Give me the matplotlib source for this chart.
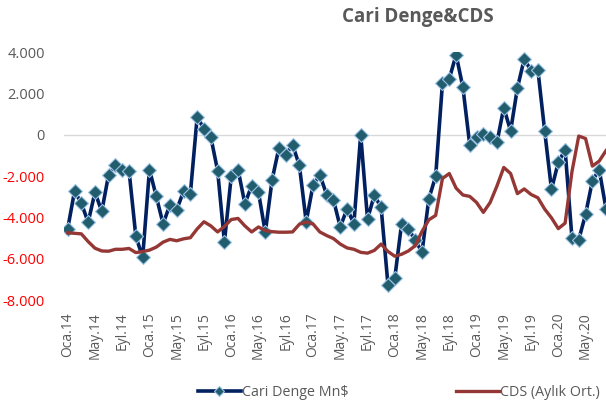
import numpy as np
import matplotlib
matplotlib.use("Agg")
import matplotlib.pyplot as plt
from matplotlib.lines import Line2D

plt.rcParams['font.family'] = ['Open Sans', 'DejaVu Sans']

# aylik veriler, Oca.14 - Agu.20
cari_denge = [-4550, -2740, -3310, -4240, -2790, -3710, -1940, -1490, -1690, -1740,
              -4920, -5940, -1690, -2990, -4320, -3390, -3630, -2740, -2860, 860,
              280, -110, -1740, -5190, -2020, -1690, -3340, -2470, -2790, -4730,
              -2180, -640, -970, -480, -1490, -4210, -2450, -1940, -2900, -3150,
              -4470, -3580, -4310, 0, -4080, -2930, -3520, -7260, -6940, -4320,
              -4560, -5110, -5680, -3100, -2020, 2500, 2700, 3870, 2290, -480,
              -130, 50, -110, -370, 1310, 180, 2260, 3660, 3100, 3150,
              180, -2650, -1330, -740, -4980, -5080, -3860, -2240, -1690, -3580]

cds = [244, 242, 240, 212, 188, 178, 177, 184, 184, 187,
       172, 176, 181, 192, 210, 220, 215, 222, 226, 258,
       284, 269, 247, 267, 292, 296, 269, 247, 265, 252,
       248, 246, 246, 247, 275, 283, 276, 247, 234, 223,
       203, 189, 184, 173, 170, 180, 203, 176, 159, 166,
       178, 197, 249, 291, 307, 441, 459, 406, 381, 376,
       354, 318, 354, 414, 481, 459, 386, 403, 383, 371,
       330, 298, 259, 279, 465, 595, 586, 486, 504, 542]

tick_labels = ['Oca.14', 'May.14', 'Eyl.14', 'Oca.15', 'May.15', 'Eyl.15', 'Oca.16',
               'May.16', 'Eyl.16', 'Oca.17', 'May.17', 'Eyl.17', 'Oca.18', 'May.18',
               'Eyl.18', 'Oca.19', 'May.19', 'Eyl.19', 'Oca.20', 'May.20']

y_ticks = [4000, 2000, 0, -2000, -4000, -6000, -8000]

navy = '#002060'
teal = '#215d6c'
kirmizi = '#953735'
gri = '#595959'

x = np.arange(len(cari_denge))

fig = plt.figure(figsize=(6.06, 4.08), dpi=100)
ax = fig.add_axes([64.3 / 606, 108 / 408, 545.1 / 606, 248 / 408])

ax.plot(x, cari_denge, color=navy, lw=2.6, marker='D', ms=7,
        mfc=teal, mec='#9dc3e6', mew=0.8, zorder=3)
ax.axhline(0, color='#d9d9d9', lw=1, zorder=1)

ax.set_xlim(-0.5, len(x) - 0.5)
ax.set_ylim(-8000, 4000)
ax.set_yticks(y_ticks)
ax.set_yticklabels([f'{v:,}'.replace(',', '.') for v in y_ticks])
for lab, v in zip(ax.get_yticklabels(), y_ticks):
    lab.set_color('red' if v < 0 else gri)
ax.set_xticks(x[::4])
ax.set_xticklabels(tick_labels, rotation=90, color=gri)
ax.tick_params(axis='y', length=0, pad=14, labelsize=10.5)
ax.tick_params(axis='x', length=0, pad=9, labelsize=10)
for s in ax.spines.values():
    s.set_visible(False)

# CDS ikinci eksende (gizli)
ax2 = ax.twinx()
ax2.plot(x, cds, color=kirmizi, lw=2.4, zorder=2)
ax2.set_ylim(0, 900)
ax2.set_yticks([])
for s in ax2.spines.values():
    s.set_visible(False)

fig.text(418 / 606, 1 - 17 / 408, 'Cari Denge&CDS', ha='center', va='center',
         fontsize=13.5, fontweight='bold', color=gri)

handles = [Line2D([], [], color=navy, lw=2.6, marker='D', ms=5.5, mfc=teal,
                  mec='#9dc3e6', mew=0.8),
           Line2D([], [], color=kirmizi, lw=2.4)]
fig.legend(handles, ['Cari Denge Mn$', 'CDS (Aylık Ort.)'], loc='center',
           bbox_to_anchor=(399 / 606, 1 - 393 / 408), ncol=2, frameon=False,
           fontsize=10.3, handlelength=3.0, handletextpad=0.1, columnspacing=7.5,
           labelcolor=gri)

fig.savefig('out.png', dpi=100)
